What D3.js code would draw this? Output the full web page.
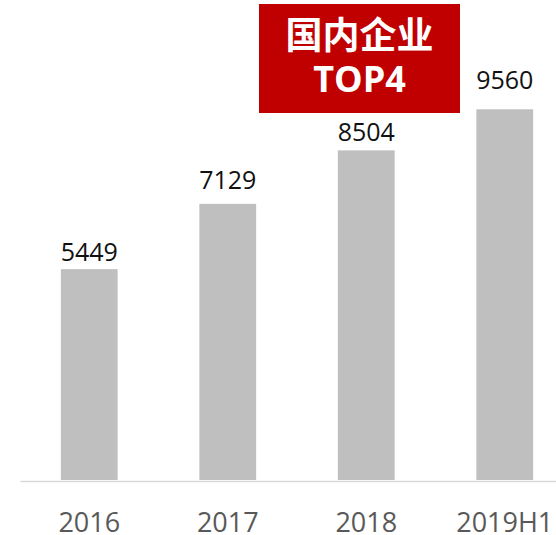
<!DOCTYPE html>
<meta charset="utf-8">
<style>
  body { margin: 0; background: #fff; }
  svg { display: block; }
  .axis path { stroke: #d9d9d9; stroke-width: 1.5px; }
  .axis text { font-family: "Open Sans", sans-serif; font-size: 27px; fill: #595959; }
  .value { font-family: "Open Sans", sans-serif; font-size: 25px; fill: #111; text-anchor: middle; }
</style>
<body></body>
<script src="https://d3js.org/d3.v7.min.js"></script>
<script>
// data
var years = ["2016", "2017", "2018", "2019H1"];
var values = [5449, 7129, 8504, 9560];
var badgeLines = ["国内企业", "TOP4"];

// small lift of each value label above its bar (as placed in the original)
var labelLift = [8, 15, 9, 20];

var width = 556, height = 535, baseY = 481;

var svg = d3.select("body").append("svg")
    .attr("width", width)
    .attr("height", height);

var x = d3.scaleBand()
    .domain(years)
    .range([20, 574])
    .paddingInner(0.59)
    .paddingOuter(0.295);

var y = d3.scaleLinear()
    .domain([0, 9560])
    .range([baseY, 109.3]);

// bars
svg.selectAll("rect.bar")
  .data(values)
  .enter().append("rect")
    .attr("class", "bar")
    .attr("x", function(d, i) { return x(years[i]); })
    .attr("y", function(d) { return y(d); })
    .attr("width", x.bandwidth())
    .attr("height", function(d) { return baseY - 1 - y(d); })
    .attr("fill", "#bfbfbf");

// value labels
svg.selectAll("text.value")
  .data(values)
  .enter().append("text")
    .attr("class", "value")
    .attr("x", function(d, i) { return x(years[i]) + x.bandwidth() / 2; })
    .attr("y", function(d, i) { return y(d) - labelLift[i]; })
    .text(function(d) { return d; });

// x axis
var gx = svg.append("g")
    .attr("class", "axis")
    .attr("transform", "translate(0," + baseY + ")")
    .call(d3.axisBottom(x).tickSize(0).tickSizeOuter(0));
gx.selectAll("text").attr("y", 50.5).attr("dy", null);

// red badge
var badge = svg.append("g").attr("transform", "translate(259,4)");
badge.append("rect")
    .attr("width", 201)
    .attr("height", 109)
    .attr("fill", "#c00000");
badge.append("text")
    .attr("x", 100.5)
    .attr("y", 45)
    .attr("text-anchor", "middle")
    .attr("fill", "#fff")
    .style("font-family", "'Noto Sans CJK SC', sans-serif")
    .style("font-weight", "bold")
    .style("font-size", "37px")
    .text(badgeLines[0]);
badge.append("text")
    .attr("x", 100.5)
    .attr("y", 88)
    .attr("text-anchor", "middle")
    .attr("fill", "#fff")
    .style("font-family", "'Open Sans', sans-serif")
    .style("font-weight", "bold")
    .style("font-size", "36px")
    .text(badgeLines[1]);
</script>
